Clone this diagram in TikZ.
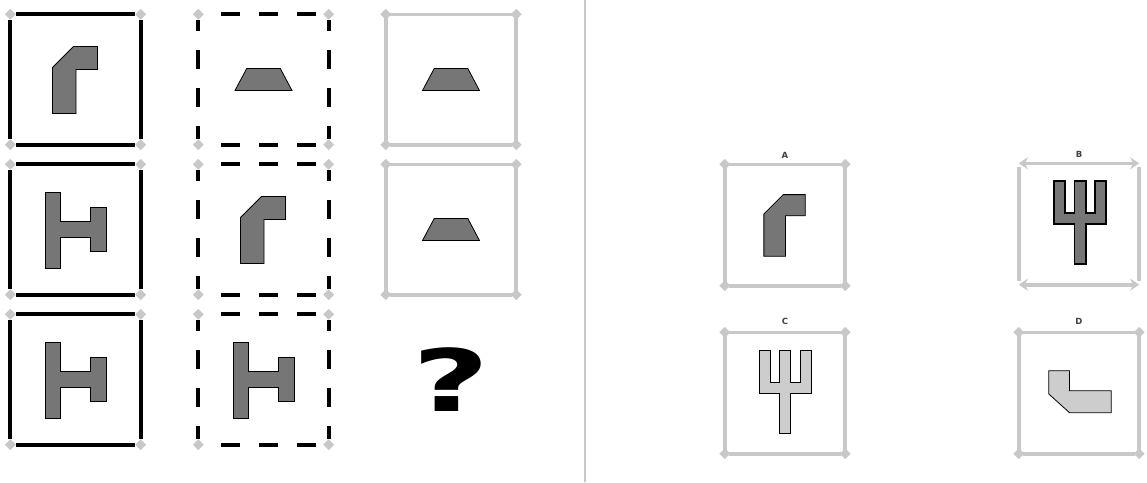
\documentclass[tikz,border=0pt]{standalone}
\usepackage{fontspec}
\usepackage{tikz}
\usetikzlibrary{arrows.meta,positioning,shapes.geometric}
\newfontfamily\qfont{DejaVu Sans}
\definecolor{rim}{HTML}{C8C8C8}
\definecolor{dark}{HTML}{767676}
\definecolor{light}{HTML}{CDCDCD}
% frame of one cell: node, style of top/bottom, style of sides
\newcommand{\cellframe}[3]{%
  \draw[#2] (#1.north west) -- (#1.north east);
  \draw[#2] (#1.south west) -- (#1.south east);
  \draw[#3] (#1.north west) -- (#1.south west);
  \draw[#3] (#1.north east) -- (#1.south east);
  \foreach \a/\k in {north west/nw, north east/ne, south west/sw, south east/se}
    \node[corner] (#1\k) at (#1.\a) {};}
\newcommand{\bentpiece}[3][1]{\draw[shp, fill=#3, shift={(#2)}, scale=#1] (-23,-12) -- (-2,-33) -- (22,-33) -- (22,-10) -- (0.5,-10) -- (0.5,34) -- (-23,34) -- cycle;}
\newcommand{\trappiece}[2]{\draw[shp, fill=#2, shift={(#1)}] (-28.5,11) -- (28.5,11) -- (16.8,-11) -- (-16.8,-11) -- cycle;}
\newcommand{\hpiece}[2]{\draw[shp, fill=#2, shift={(#1)}] (-30.5,-37) -- (-15,-37) -- (-15,-8) -- (15,-8) -- (15,-22) -- (30.5,-22) -- (30.5,22) -- (15,22) -- (15,8) -- (-15,8) -- (-15,39) -- (-30.5,39) -- cycle;}
\newcommand{\forkpiece}[3][]{\draw[shp, #1, fill=#3, shift={(#2)}] (-26,-43) -- (-15,-43) -- (-15,-11) -- (-5.7,-11) -- (-5.7,-43) -- (5.7,-43) -- (5.7,-11) -- (15,-11) -- (15,-43) -- (26,-43) -- (26,0) -- (5.7,0) -- (5.7,40) -- (-5.7,40) -- (-5.7,0) -- (-26,0) -- cycle;}
\newcommand{\footpiece}[2]{\draw[shp, fill=#2, shift={(#1)}] (-30.2,-22.3) -- (-9.5,-22.3) -- (-9.5,-2.3) -- (32.2,-2.3) -- (32.2,19.7) -- (-9.5,19.7) -- (-30.2,1) -- cycle;}

\begin{document}
\begin{tikzpicture}[x=1pt, y=-1pt,
  cell/.style={minimum width=130pt, minimum height=130pt, inner sep=0pt},
  opt/.style={minimum width=120pt, minimum height=121pt, inner sep=0pt},
  blackrim/.style={line width=3.8pt, black, shorten <=6pt, shorten >=6pt},
  dashrimh/.style={blackrim, dash pattern=on 19pt off 19pt, dash phase=21pt},
  dashrimv/.style={blackrim, dash pattern=on 19pt off 19pt, dash phase=8pt},
  grayrim/.style={line width=3.6pt, rim, shorten <=4pt, shorten >=4pt},
  corner/.style={diamond, fill=rim, inner sep=0pt, minimum size=11pt},
  shp/.style={draw=black, line width=0.8pt},
  optlbl/.style={font=\qfont\bfseries\fontsize{8.5}{8.5}\selectfont, text=black!75, inner sep=0pt},
  qmark/.style={font=\qfont\bfseries\fontsize{86}{86}\selectfont, inner sep=0pt, xscale=1.55}]
\useasboundingbox (0,0) rectangle (1147,482);
% the 3x3 puzzle
\node[cell] (a1) at (75.5,79.5) {};
\node[cell] (a2) at (263.5,79.5) {};
\node[cell] (a3) at (451,79.5) {};
\node[cell] (b1) at (75.5,229.5) {};
\node[cell] (b2) at (263.5,229.5) {};
\node[cell] (b3) at (451,229.5) {};
\node[cell] (c1) at (75.5,379.5) {};
\node[cell] (c2) at (263.5,379.5) {};
\node[qmark] (qm) at (451,380) {?};
\foreach \n in {a1,b1,c1} {\cellframe{\n}{blackrim}{blackrim}}
\foreach \n in {a2,b2,c2} {\cellframe{\n}{dashrimh}{dashrimv}}
\foreach \n in {a3,b3} {\cellframe{\n}{grayrim}{grayrim}}
\bentpiece{a1}{dark}
\trappiece{a2}{dark}
\trappiece{a3}{dark}
\hpiece{b1}{dark}
\bentpiece{b2}{dark}
\trappiece{b3}{dark}
\hpiece{c1}{dark}
\hpiece{c2}{dark}
% divider
\draw[rim, line width=1.5pt] (585,0) -- (585,482);
% answer options
\node[opt] (optA) at (785,225) {};
\node[opt] (optB) at (1079,224) {};
\node[opt] (optC) at (785,393) {};
\node[opt] (optD) at (1079,393) {};
\foreach \n in {optA,optC,optD} {\cellframe{\n}{grayrim}{grayrim}}
\draw[line width=3.6pt, rim, {Stealth[length=9pt,width=12pt]}-{Stealth[length=9pt,width=12pt]}] (optB.north west) -- (optB.north east);
\draw[line width=3.6pt, rim, {Stealth[length=9pt,width=12pt]}-{Stealth[length=9pt,width=12pt]}] (optB.south west) -- (optB.south east);
\draw[grayrim] (optB.north west) -- (optB.south west);
\draw[grayrim] (optB.north east) -- (optB.south east);
\node[optlbl, above=6pt of optA] (labA) {A};
\node[optlbl, above=6pt of optB] (labB) {B};
\node[optlbl, above=7pt of optC] (labC) {C};
\node[optlbl, above=8pt of optD] (labD) {D};
\bentpiece[0.92]{optA}{dark}
\forkpiece[line width=1.6pt]{[xshift=1pt]optB.center}{dark}
\forkpiece{optC}{light}
\footpiece{optD}{light}
\end{tikzpicture}
\end{document}
